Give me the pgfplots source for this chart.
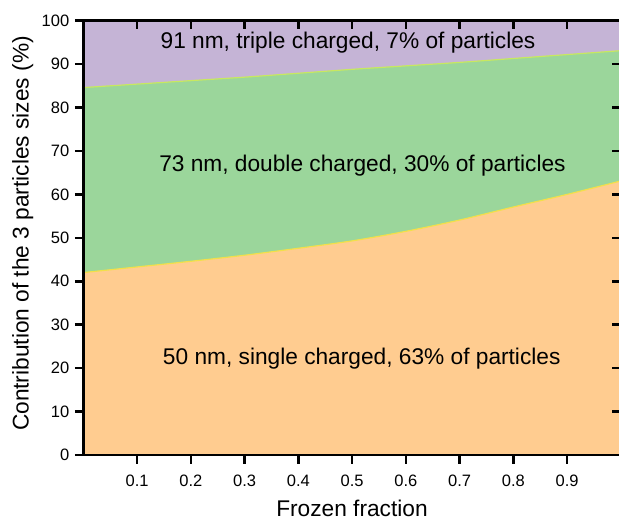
\documentclass[border=0pt]{standalone}
\usepackage{pgfplots}
\usepackage{pgfplotstable}
\pgfplotsset{compat=1.18}
\usepackage{fontspec}
\setmainfont{Liberation Sans}
\definecolor{cOrange}{HTML}{FFCC90}
\definecolor{cGreen}{HTML}{9BD69B}
\definecolor{cPurple}{HTML}{C5B4D6}
\definecolor{cLineU}{HTML}{C8E860}
\definecolor{cLineL}{HTML}{F2E04A}
\newcommand{\bigfont}{\fontsize{22.7}{26}\selectfont}
\newcommand{\tickfont}{\fontsize{16.5}{19}\selectfont}

\pgfplotstableread{
x y
0.0 84.6
0.1 85.4
0.2 86.2
0.3 87.0
0.4 87.9
0.5 88.8
0.6 89.6
0.7 90.4
0.8 91.3
0.9 92.2
1.0 93.1
}\uppertab
\pgfplotstableread{
x y
0.0 42.0
0.1 43.3
0.2 44.6
0.3 46.0
0.4 47.6
0.5 49.3
0.6 51.5
0.7 54.1
0.8 57.1
0.9 60.0
1.0 63.1
}\lowertab

\begin{document}
\begin{tikzpicture}
\begin{axis}[
  scale only axis, width=537.5pt, height=434.3pt,
  xmin=0, xmax=1, ymin=0, ymax=100,
  xtick={0.1,0.2,0.3,0.4,0.5,0.6,0.7,0.8,0.9},
  ytick={0,10,20,30,40,50,60,70,80,90,100},
  xtick pos=bottom, ytick pos=left,
  tick align=outside,
  major tick length=8.5pt,
  axis line style={line width=2.5pt},
  tick style={line width=2.5pt, black},
  ticklabel style={font=\tickfont},
  /pgf/number format/assume math mode=true,
  xticklabel style={yshift=-8pt, /pgf/number format/.cd, fixed, fixed zerofill, precision=1},
  yticklabel style={xshift=-2pt},
  axis on top,
]
\coordinate (O) at (rel axis cs:0,0);
\addplot[draw=none, fill=cPurple] coordinates {(0,100) (1,100)} \closedcycle;
\addplot[draw=none, fill=cGreen, smooth] table {\uppertab} \closedcycle;
\addplot[draw=none, fill=cOrange, smooth] table {\lowertab} \closedcycle;
\addplot[cLineU, line width=1.2pt, smooth] table {\uppertab};
\addplot[cLineL, line width=1.2pt, smooth] table {\lowertab};
\node[anchor=base, font=\bigfont] at (axis cs:0.4925,93.65) {91 nm, triple charged, 7\% of particles};
\node[anchor=base, font=\bigfont] at (axis cs:0.5194,65.39) {73 nm, double charged, 30\% of particles};
\node[anchor=base, font=\bigfont] at (axis cs:0.518,20.95) {50 nm, single charged, 63\% of particles};
\end{axis}
\begin{axis}[
  scale only axis, width=537.5pt, height=434.3pt,
  xmin=0, xmax=1, ymin=0, ymax=100,
  xtick={0.1,0.2,0.3,0.4,0.5,0.6,0.7,0.8,0.9},
  ytick={0,10,20,30,40,50,60,70,80,90,100},
  xtick pos=top, ytick pos=right,
  tick align=inside,
  major tick length=8.5pt,
  axis line style={line width=2.5pt},
  tick style={line width=2.5pt, black},
  xticklabels={}, yticklabels={},
]
\end{axis}
\node[rotate=90, anchor=base, font=\bigfont] at ([shift={(-54.7pt,221.5pt)}]O) {Contribution of the 3 particles sizes (\%)};
\node[anchor=base, font=\bigfont] at ([shift={(268.7pt,-61pt)}]O) {Frozen fraction};
\pgfresetboundingbox
\path ([shift={(-83.3pt,-65pt)}]O) rectangle ++(619pt,520pt);
\end{tikzpicture}
\end{document}
